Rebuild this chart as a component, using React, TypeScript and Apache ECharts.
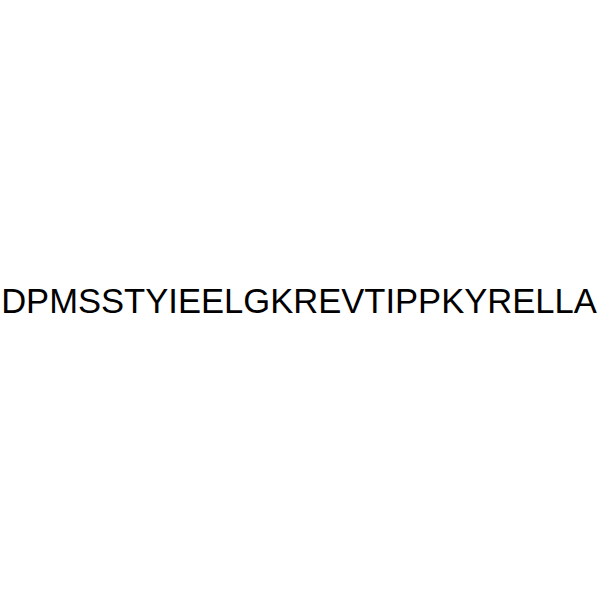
import React, { useEffect, useRef } from "react";
import * as echarts from "echarts";

const labelText = "DPMSSTYIEELGKREVTIPPKYRELLA";

export default function App() {
  const ref = useRef<HTMLDivElement>(null);
  useEffect(() => {
    if (!ref.current) return;
    const chart = echarts.init(ref.current, null, { renderer: "svg" });
    chart.setOption({
      animation: false,
      backgroundColor: "#ffffff",
      graphic: [
        {
          type: "text",
          x: 299,
          y: 318,
          style: {
            text: labelText,
            fill: "#000000",
            font: "34.6px 'Liberation Sans', Arial, sans-serif",
            textAlign: "center",
            textVerticalAlign: "bottom",
          },
        },
      ],
    });
    return () => chart.dispose();
  }, []);
  return (
    <div
      ref={ref}
      style={{ width: 600, height: 600, position: "absolute", left: 0, top: 0 }}
    />
  );
}
